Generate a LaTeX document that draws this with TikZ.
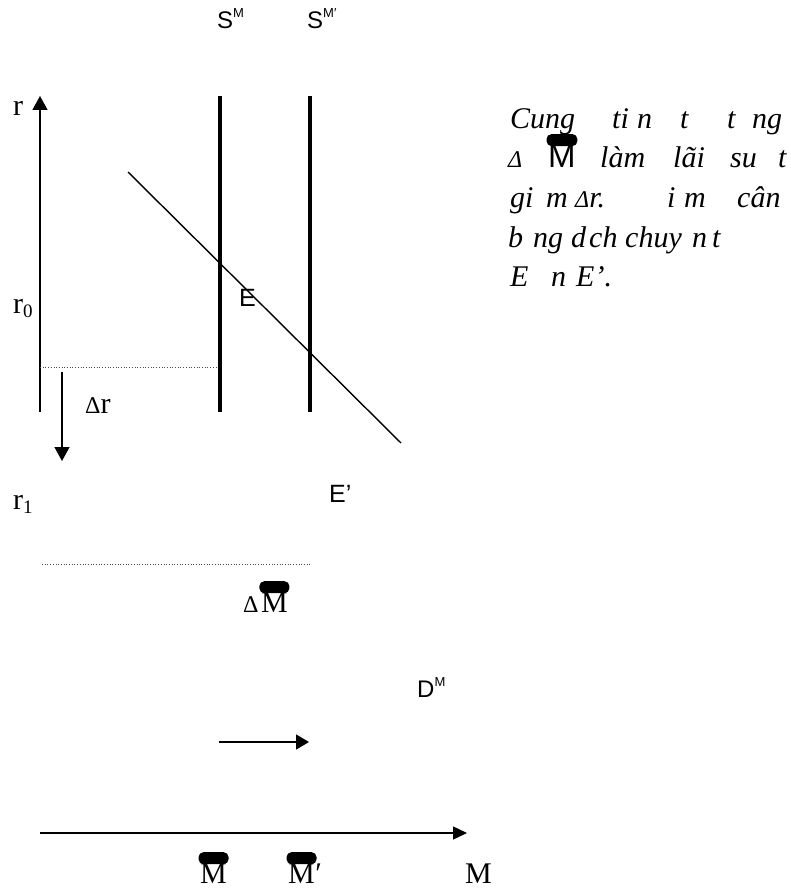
\documentclass[tikz,border=0pt]{standalone}
\usepackage{fontspec}
\setmainfont{Liberation Serif}
\setsansfont{Liberation Sans}
\usetikzlibrary{arrows.meta}
\newcommand{\smallDelta}{{\fontsize{24}{24}\selectfont Δ}}
\newcommand{\supM}[1]{\raisebox{11pt}{\fontsize{13}{13}\selectfont #1}}
\newcommand{\capblob}[1]{\fill[rounded corners=5pt] ([xshift=-1.5pt,yshift=-1pt]#1.north west) rectangle ([xshift=1.5pt,yshift=11pt]#1.north east);}

\begin{document}
\begin{tikzpicture}[x=1pt, y=-1pt, >={Triangle[length=14pt, width=15pt]},
  serif/.style={font=\fontsize{30}{36}\selectfont, anchor=base west, inner sep=0pt},
  sans/.style={font=\sffamily\fontsize{24}{28}\selectfont, anchor=base west, inner sep=0pt},
  note/.style={font=\itshape\fontsize{30}{36}\selectfont, anchor=base west, inner sep=0pt},
  curve/.style={line width=4pt},
  axis/.style={line width=1.4pt},
  guide/.style={line width=0.8pt, dash pattern=on 0.9pt off 1.8pt, black!70}]
  \useasboundingbox (0,0) rectangle (790,890);

  % money market: r axis and supply lines
  \coordinate (rbot) at (40,412);
  \coordinate (rtop) at (40,96);
  \draw[axis, ->] (rbot) -- (rtop);
  \coordinate (stop) at (219.5,96);  \coordinate (sbot) at (219.5,412);
  \coordinate (sptop) at (310,96);   \coordinate (spbot) at (310,412);
  \draw[curve] (stop) -- (sbot);
  \draw[curve] (sptop) -- (spbot);
  \coordinate (dtop) at (128,172);
  \coordinate (dbot) at (401,443);
  \draw[line width=1.4pt] (dtop) -- (dbot);

  \node[sans] (smlab) at (217,29) {S\supM{M}};
  \node[sans] (smplab) at (307,29) {S\supM{M′}};
  \node[sans, font=\sffamily\fontsize{25}{30}\selectfont] (elab) at (239,306) {E};
  \node[sans, font=\sffamily\fontsize{25}{30}\selectfont] (eplab) at (329,502) {E’};
  \node[sans] (dmlab) at (417,697) {D\supM{M}};

  \node[serif] (rlab) at (13,116) {r};
  \node[serif] (rzero) at (13,313) {r\raisebox{-4pt}{\fontsize{19}{19}\selectfont 0}};
  \node[serif] (rone) at (13,509) {r\raisebox{-4pt}{\fontsize{19}{19}\selectfont 1}};
  \node[serif] (drlab) at (85,413) {\smallDelta r};

  % drop of r and the dotted guides
  \coordinate (gza) at (40,367);   \coordinate (gzb) at (218,367);
  \coordinate (goa) at (42,564);   \coordinate (gob) at (311,564);
  \draw[guide] (gza) -- (gzb);
  \draw[guide] (goa) -- (gob);
  \coordinate (dra) at (62,372);   \coordinate (drb) at (62,461);
  \draw[axis, ->] (dra) -- (drb);

  \node[serif] (dmd) at (243,612) {\smallDelta};
  \node[serif] (dmbar) at ([xshift=2pt]dmd.base east) {M};
  \capblob{dmbar}

  % shift of supply and the M axis
  \coordinate (sha) at (219,742);  \coordinate (shb) at (309,742);
  \draw[axis, ->, >={Triangle[length=13pt, width=15pt]}] (sha) -- (shb);
  \coordinate (ma) at (40,833);    \coordinate (mb) at (467,833);
  \draw[axis, ->, >={Triangle[length=14pt, width=13pt]}] (ma) -- (mb);

  \node[serif] (mbar) at (200,883) {M};
  \capblob{mbar}
  \node[serif] (mbarp) at (288,883) {M};
  \capblob{mbarp}
  \node[serif] (mprime) at (mbarp.base east) {′};
  \node[serif] (mlab) at (465,883) {M};

  % comment text
  \foreach \w/\xx [count=\i] in {Cung/510, ti/612, n/637, t/680, t/727, ng/752}
    \node[note] (la\i) at (\xx,129) {\w};
  \foreach \w/\xx [count=\i] in {\smallDelta/508, làm/600, lãi/673, su/730, t/778}
    \node[note] (lb\i) at (\xx,168) {\w};
  \node[sans, font=\sffamily\fontsize{33}{36}\selectfont] (mnote) at (548,168) {M};
  \capblob{mnote}
  \foreach \w/\xx [count=\i] in {gi/510, m/546, \smallDelta r./575, i/667, m/684, cân/737}
    \node[note] (lc\i) at (\xx,208) {\w};
  \foreach \w/\xx [count=\i] in {b/508, ng/533, d/571, ch/589, chuy/625, n/692, t/712}
    \node[note] (ld\i) at (\xx,248) {\w};
  \foreach \w/\xx [count=\i] in {E/510, n/551, E’./576}
    \node[note] (le\i) at (\xx,287) {\w};
\end{tikzpicture}
\end{document}
